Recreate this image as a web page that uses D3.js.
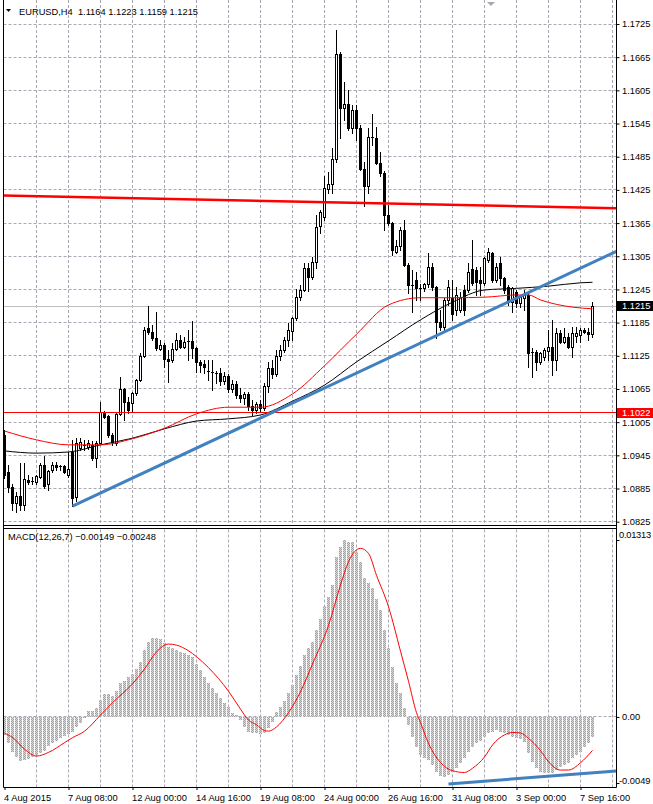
<!DOCTYPE html>
<html>
<head>
<meta charset="utf-8">
<script src="https://cdn.jsdelivr.net/npm/d3@7"></script>
<style>
  html, body { margin: 0; padding: 0; background: #fff; }
  svg { display: block; }
</style>
</head>
<body>
<svg id="chart" width="653" height="804"></svg>
<script>
// ---- data (bar 0 = 4 Aug 16:00, one bar per 4 hours) ----
// [open, high, low, close]
const ohlc = [
  [1.0982,1.0991,1.0904,1.0909],[1.0915,1.0928,1.0879,1.0888],[1.0888,1.0893,1.0846,1.0859],[1.0859,1.0879,1.0843,1.0872],
  [1.0872,1.0931,1.0846,1.0855],[1.0855,1.0931,1.0846,1.0902],[1.0900,1.0910,1.0893,1.0897],[1.0898,1.0906,1.0893,1.0899],
  [1.0897,1.0910,1.0893,1.0908],[1.0906,1.0931,1.0904,1.0928],[1.0928,1.0944,1.0886,1.0890],[1.0893,1.0919,1.0882,1.0917],
  [1.0918,1.0933,1.0915,1.0928],[1.0928,1.0933,1.0918,1.0924],[1.0924,1.0928,1.0918,1.0925],[1.0926,1.0928,1.0913,1.0915],
  [1.0910,1.0951,1.0906,1.0920],[1.0951,1.0973,1.0853,1.0868],[1.0870,1.0976,1.0862,1.0967],[1.0958,1.0976,1.0955,1.0969],
  [1.0961,1.0973,1.0955,1.0964],[1.0960,1.0973,1.0956,1.0967],[1.0964,1.0971,1.0937,1.0940],[1.0940,1.0971,1.0924,1.0968],
  [1.0968,1.1042,1.0967,1.1023],[1.1022,1.1025,1.1013,1.1014],[1.1016,1.1018,1.0978,1.0982],[1.0982,1.0985,1.0964,1.0969],
  [1.0967,1.1022,1.0964,1.1020],[1.1020,1.1087,1.1018,1.1065],[1.1065,1.1067,1.1009,1.1042],[1.1042,1.1051,1.1022,1.1027],
  [1.1040,1.1060,1.1023,1.1058],[1.1058,1.1083,1.1054,1.1082],[1.1081,1.1130,1.1080,1.1125],[1.1125,1.1177,1.1123,1.1172],
  [1.1175,1.1215,1.1164,1.1168],[1.1168,1.1181,1.1154,1.1157],[1.1157,1.1204,1.1136,1.1139],[1.1138,1.1154,1.1136,1.1145],
  [1.1145,1.1148,1.1105,1.1119],[1.1120,1.1136,1.1078,1.1116],[1.1117,1.1148,1.1114,1.1138],[1.1138,1.1166,1.1136,1.1154],
  [1.1154,1.1163,1.1139,1.1141],[1.1141,1.1159,1.1139,1.1150],[1.1150,1.1172,1.1117,1.1151],[1.1151,1.1188,1.1121,1.1139],
  [1.1139,1.1141,1.1096,1.1114],[1.1114,1.1117,1.1096,1.1108],[1.1110,1.1117,1.1094,1.1105],[1.1097,1.1117,1.1081,1.1096],
  [1.1096,1.1117,1.1063,1.1094],[1.1094,1.1097,1.1076,1.1093],[1.1093,1.1103,1.1072,1.1079],[1.1079,1.1096,1.1074,1.1088],
  [1.1088,1.1092,1.1060,1.1065],[1.1065,1.1081,1.1060,1.1074],[1.1074,1.1079,1.1049,1.1054],[1.1054,1.1067,1.1042,1.1049],
  [1.1049,1.1060,1.1038,1.1056],[1.1056,1.1060,1.1027,1.1034],[1.1034,1.1045,1.1018,1.1027],[1.1027,1.1042,1.1022,1.1038],
  [1.1038,1.1045,1.1023,1.1031],[1.1031,1.1076,1.1027,1.1070],[1.1070,1.1114,1.1060,1.1103],[1.1103,1.1117,1.1085,1.1092],
  [1.1092,1.1136,1.1088,1.1125],[1.1125,1.1145,1.1118,1.1136],[1.1136,1.1159,1.1132,1.1154],[1.1154,1.1184,1.1143,1.1172],
  [1.1169,1.1195,1.1154,1.1193],[1.1193,1.1246,1.1190,1.1231],[1.1231,1.1253,1.1226,1.1244],[1.1244,1.1293,1.1242,1.1284],
  [1.1284,1.1293,1.1242,1.1268],[1.1268,1.1304,1.1264,1.1295],[1.1295,1.1380,1.1284,1.1358],[1.1360,1.1389,1.1347,1.1385],
  [1.1376,1.1450,1.1371,1.1429],[1.1427,1.1457,1.1419,1.1436],[1.1436,1.1501,1.1419,1.1481],[1.1481,1.1714,1.1475,1.1671],
  [1.1671,1.1675,1.1519,1.1573],[1.1573,1.1620,1.1551,1.1580],[1.1580,1.1606,1.1533,1.1537],[1.1537,1.1579,1.1528,1.1569],
  [1.1569,1.1579,1.1515,1.1537],[1.1537,1.1543,1.1461,1.1463],[1.1463,1.1475,1.1396,1.1432],[1.1432,1.1537,1.1419,1.1521],
  [1.1521,1.1562,1.1506,1.1519],[1.1519,1.1539,1.1472,1.1474],[1.1474,1.1494,1.1450,1.1456],[1.1456,1.1459,1.1352,1.1380],
  [1.1380,1.1398,1.1362,1.1365],[1.1365,1.1367,1.1307,1.1316],[1.1313,1.1334,1.1311,1.1324],[1.1324,1.1358,1.1316,1.1352],
  [1.1352,1.1371,1.1287,1.1289],[1.1289,1.1293,1.1239,1.1253],[1.1253,1.1280,1.1204,1.1251],[1.1262,1.1277,1.1226,1.1248],
  [1.1248,1.1255,1.1226,1.1247],[1.1247,1.1257,1.1242,1.1255],[1.1255,1.1311,1.1249,1.1286],[1.1286,1.1293,1.1244,1.1249],
  [1.1249,1.1251,1.1157,1.1186],[1.1186,1.1208,1.1172,1.1177],[1.1177,1.1230,1.1172,1.1226],[1.1226,1.1262,1.1217,1.1249],
  [1.1229,1.1262,1.1190,1.1201],[1.1208,1.1249,1.1199,1.1235],[1.1208,1.1240,1.1204,1.1231],[1.1244,1.1253,1.1199,1.1208],
  [1.1244,1.1293,1.1240,1.1277],[1.1282,1.1334,1.1253,1.1257],[1.1280,1.1286,1.1235,1.1259],[1.1262,1.1286,1.1235,1.1257],
  [1.1257,1.1304,1.1253,1.1302],[1.1298,1.1320,1.1295,1.1313],[1.1311,1.1313,1.1259,1.1262],[1.1262,1.1293,1.1259,1.1286],
  [1.1293,1.1304,1.1253,1.1266],[1.1266,1.1268,1.1239,1.1244],[1.1249,1.1253,1.1217,1.1222],[1.1222,1.1250,1.1204,1.1248],
  [1.1240,1.1244,1.1213,1.1220],[1.1220,1.1235,1.1213,1.1231],[1.1229,1.1244,1.1208,1.1235],[1.1235,1.1240,1.1105,1.1130],
  [1.1130,1.1139,1.1087,1.1132],[1.1132,1.1136,1.1099,1.1114],[1.1114,1.1132,1.1110,1.1130],[1.1123,1.1139,1.1117,1.1136],
  [1.1133,1.1172,1.1117,1.1141],[1.1141,1.1190,1.1090,1.1117],[1.1117,1.1175,1.1099,1.1166],[1.1166,1.1172,1.1148,1.1150],
  [1.1150,1.1175,1.1148,1.1159],[1.1159,1.1166,1.1139,1.1141],[1.1141,1.1177,1.1123,1.1166],[1.1160,1.1177,1.1150,1.1166],
  [1.1162,1.1175,1.1150,1.1172],[1.1172,1.1175,1.1166,1.1168],[1.1168,1.1175,1.1154,1.1164],[1.1164,1.1223,1.1159,1.1215]
];

// moving averages, sampled at bar indices
const maRedBars   = [0, 8, 16, 24, 32, 40, 48, 56, 64, 72, 80, 88, 96, 104, 112, 120, 128, 131, 134, 138, 142, 147];
const maRedVals   = [1.0989, 1.0973, 1.0964, 1.0964, 1.0975, 1.0994, 1.1020, 1.1032, 1.1032, 1.1056, 1.1107,
                     1.1164, 1.1217, 1.1230, 1.1230, 1.1231, 1.1235, 1.1235, 1.1226, 1.1218, 1.1213, 1.1210];
const maBlackBars = [0, 8, 16, 24, 32, 40, 48, 56, 64, 72, 80, 88, 96, 104, 112, 120, 128, 136, 144, 147];
const maBlackVals = [1.0953, 1.0949, 1.0951, 1.0964, 1.0976, 1.0993, 1.1007, 1.1011, 1.1018, 1.1043, 1.1072,
                     1.1114, 1.1152, 1.1190, 1.1222, 1.1244, 1.1247, 1.1251, 1.1257, 1.1258];

// MACD(12,26,7) main values (histogram), one per bar
const macdHist = [
  -0.00134,-0.00196,-0.00258,-0.00295,-0.00325,-0.00320,-0.00310,-0.00300,-0.00282,-0.00271,
  -0.00251,-0.00213,-0.00196,-0.00176,-0.00159,-0.00141,-0.00127,-0.00109,-0.00078,-0.00042,
  -0.00005, 0.00044, 0.00044, 0.00064, 0.00125, 0.00170, 0.00170, 0.00155, 0.00194, 0.00254,
   0.00266, 0.00294, 0.00319, 0.00354, 0.00410, 0.00497, 0.00558, 0.00583, 0.00583, 0.00575,
   0.00546, 0.00516, 0.00509, 0.00497, 0.00479, 0.00471, 0.00460, 0.00442, 0.00393, 0.00348,
   0.00294, 0.00250, 0.00212, 0.00175, 0.00138, 0.00101, 0.00071, 0.00031, 0.00014,-0.00023,
  -0.00072,-0.00109,-0.00117,-0.00122,-0.00130,-0.00122,-0.00085,-0.00036, 0.00038, 0.00071,
   0.00119, 0.00175, 0.00237, 0.00311, 0.00378, 0.00460, 0.00509, 0.00558, 0.00644, 0.00724,
   0.00823, 0.00888, 0.00979, 0.01184, 0.01262, 0.01313, 0.01300, 0.01295, 0.01225, 0.01152,
   0.01029, 0.00996, 0.00954, 0.00873, 0.00793, 0.00644, 0.00514, 0.00373, 0.00250, 0.00179,
   0.00069,-0.00061,-0.00147,-0.00221,-0.00282,-0.00307,-0.00320,-0.00357,-0.00407,-0.00438,
  -0.00444,-0.00431,-0.00407,-0.00381,-0.00344,-0.00307,-0.00258,-0.00221,-0.00196,-0.00176,
  -0.00147,-0.00122,-0.00109,-0.00098,-0.00109,-0.00122,-0.00134,-0.00147,-0.00159,-0.00167,
  -0.00184,-0.00271,-0.00332,-0.00381,-0.00407,-0.00414,-0.00418,-0.00414,-0.00394,-0.00369,
  -0.00357,-0.00340,-0.00307,-0.00282,-0.00258,-0.00221,-0.00191,-0.00149
];

// MACD signal line, sampled at bar indices
const signalBars = [0, 2, 5, 8, 11, 15, 17, 20, 24, 27, 32, 35, 38, 41, 43, 46, 48, 51, 56, 59, 61, 63, 65, 66, 68,
                    71, 74, 77, 81, 84, 86, 89, 91, 93, 96, 99, 101, 103, 104, 106, 109, 112, 115, 117, 120, 122,
                    125, 127, 129, 131, 134, 136, 139, 141, 144, 147];
const signalVals = [-0.00122,-0.00152,-0.00239,-0.00290,-0.00263,-0.00191,-0.00154,-0.00106, 0.00014, 0.00106,
                     0.00246, 0.00356, 0.00483, 0.00541, 0.00533, 0.00491, 0.00447, 0.00366, 0.00191, 0.00058,
                    -0.00023,-0.00058,-0.00101,-0.00105,-0.00074, 0.00032, 0.00187, 0.00393, 0.00679, 0.00979,
                     0.01152, 0.01251, 0.01214, 0.01051, 0.00818, 0.00488, 0.00265, 0.00032,-0.00042,-0.00196,
                    -0.00338,-0.00399,-0.00412,-0.00381,-0.00297,-0.00208,-0.00133,-0.00115,-0.00119,-0.00159,
                    -0.00250,-0.00332,-0.00394,-0.00394,-0.00340,-0.00248];

// drawn objects: [bar, value] end points
const blueTrend     = [[17, 1.0853], [153, 1.1314]];
const redTrend      = [[-1, 1.1415], [153, 1.1392]];
const macdTrend     = [[111, -0.00497], [153, -0.00401]];
const levelPrice    = 1.1022;
const bidPrice      = 1.1215;

// axis ticks
const priceTicks     = [1.0825, 1.0885, 1.0945, 1.1005, 1.1065, 1.1125, 1.1185, 1.1245,
                        1.1305, 1.1365, 1.1425, 1.1485, 1.1545, 1.1605, 1.1665, 1.1725];
const macdTicks      = [0.01313, 0, -0.0049];
const macdTickLabels = ['0.01313', '0.00', '-0.0049'];
const dateTickBars   = [0, 16, 32, 48, 64, 80, 96, 112, 128, 144];
const dateTickLabels = ['4 Aug 2015', '7 Aug 08:00', '12 Aug 00:00', '14 Aug 16:00', '19 Aug 08:00',
                        '24 Aug 00:00', '26 Aug 16:00', '31 Aug 08:00', '3 Sep 00:00', '7 Sep 16:00'];

// ---- layout ----
const FONT = '"Liberation Sans", Arial, sans-serif';
const FONT_SIZE = 9.3;
const LEFT = 3.5, RIGHT = 616.5;
const MAIN_BOTTOM = 525.5, SUB_TOP = 528.5, SUB_BOTTOM = 787.5;
const GRID = '#aba7b5';

const svg = d3.select('#chart').attr('font-family', FONT).attr('font-size', FONT_SIZE);

const x  = d3.scaleLinear().domain([0, 147]).range([4.5, 592.5]);
const y  = d3.scaleLinear().domain([1.0825, 1.1725]).range([521.7, 24]);
const ym = d3.scaleLinear().domain([-0.0049, 0.01313]).range([783, 540]);
const snap = v => Math.round(v - 0.5) + 0.5;

const defs = svg.append('defs');
const pat = defs.append('pattern').attr('id', 'stipple')
  .attr('width', 2).attr('height', 2).attr('patternUnits', 'userSpaceOnUse');
pat.append('rect').attr('width', 2).attr('height', 2).attr('fill', '#d8d8d8');
pat.append('rect').attr('width', 1).attr('height', 1).attr('fill', '#a2a2a2');
pat.append('rect').attr('x', 1).attr('y', 1).attr('width', 1).attr('height', 1).attr('fill', '#a2a2a2');
defs.append('clipPath').attr('id', 'clipMain').append('rect')
  .attr('x', LEFT).attr('y', 0).attr('width', RIGHT - LEFT).attr('height', MAIN_BOTTOM);
defs.append('clipPath').attr('id', 'clipSub').append('rect')
  .attr('x', LEFT).attr('y', SUB_TOP).attr('width', RIGHT - LEFT).attr('height', SUB_BOTTOM - SUB_TOP);

// ---- grid ----
const gridBars = d3.range(8, 153, 8);
const grid = svg.append('g').attr('stroke', GRID).attr('stroke-dasharray', '3,2').attr('fill', 'none');
gridBars.forEach(b => {
  grid.append('line').attr('x1', x(b)).attr('x2', x(b)).attr('y1', 0).attr('y2', MAIN_BOTTOM - 1);
  grid.append('line').attr('x1', x(b)).attr('x2', x(b)).attr('y1', SUB_TOP + 1).attr('y2', SUB_BOTTOM);
});
priceTicks.forEach(p => {
  grid.append('line').attr('x1', LEFT).attr('x2', RIGHT).attr('y1', snap(y(p))).attr('y2', snap(y(p)));
});
grid.append('line').attr('x1', LEFT).attr('x2', RIGHT).attr('y1', snap(ym(0))).attr('y2', snap(ym(0)));

// ---- main window ----
const main = svg.append('g').attr('clip-path', 'url(#clipMain)');

// bid line
main.append('line').attr('x1', LEFT).attr('x2', RIGHT)
  .attr('y1', snap(y(bidPrice))).attr('y2', snap(y(bidPrice)))
  .attr('stroke', '#c0c0c0');

// candles
const candles = main.append('g');
ohlc.forEach((d, i) => {
  const [o, h, l, c] = d;
  const cx = x(i);
  candles.append('line').attr('x1', cx).attr('x2', cx)
    .attr('y1', Math.round(y(h))).attr('y2', Math.round(y(l)) + 1)
    .attr('stroke', '#000');
  const yo = Math.round(y(o)), yc = Math.round(y(c));
  if (Math.abs(yo - yc) < 2) {
    candles.append('rect').attr('x', cx - 1.5).attr('y', Math.min(yo, yc)).attr('width', 3).attr('height', 1)
      .attr('fill', '#000');
  } else if (c > o) {
    candles.append('rect').attr('x', cx - 1).attr('y', yc + 0.5).attr('width', 2).attr('height', yo - yc)
      .attr('fill', '#fff').attr('stroke', '#000');
  } else {
    candles.append('rect').attr('x', cx - 1.5).attr('y', yo).attr('width', 3).attr('height', yc - yo + 1)
      .attr('fill', '#000');
  }
});

// moving averages
const priceLine = d3.line().x(d => x(d[0])).y(d => y(d[1])).curve(d3.curveMonotoneX);
main.append('path').datum(maBlackBars.map((b, i) => [b, maBlackVals[i]]))
  .attr('d', priceLine).attr('fill', 'none').attr('stroke', '#000').attr('stroke-width', 1);
main.append('path').datum(maRedBars.map((b, i) => [b, maRedVals[i]]))
  .attr('d', priceLine).attr('fill', 'none').attr('stroke', '#ff0000').attr('stroke-width', 1);

// horizontal level
main.append('line').attr('x1', LEFT).attr('x2', RIGHT)
  .attr('y1', snap(y(levelPrice))).attr('y2', snap(y(levelPrice)))
  .attr('stroke', '#ff0000');

// trend lines
const straight = d3.line().x(d => x(d[0])).y(d => y(d[1]));
main.append('path').datum(redTrend).attr('d', straight)
  .attr('fill', 'none').attr('stroke', '#ff0000').attr('stroke-width', 2.5);
main.append('path').datum(blueTrend).attr('d', straight)
  .attr('fill', 'none').attr('stroke', '#4181c0').attr('stroke-width', 3);

// ---- MACD window ----
const sub = svg.append('g').attr('clip-path', 'url(#clipSub)');
const zeroY = Math.round(ym(0));
sub.append('g').selectAll('rect').data(macdHist).join('rect')
  .attr('x', (d, i) => x(i) - 1.5)
  .attr('width', 3)
  .attr('y', d => d >= 0 ? Math.round(ym(d)) : zeroY)
  .attr('height', d => Math.max(1, Math.abs(Math.round(ym(d)) - zeroY)))
  .attr('fill', 'url(#stipple)');

const macdLine = d3.line().x(d => x(d[0])).y(d => ym(d[1])).curve(d3.curveMonotoneX);
sub.append('path').datum(signalBars.map((b, i) => [b, signalVals[i]]))
  .attr('d', macdLine).attr('fill', 'none').attr('stroke', '#ff0000').attr('stroke-width', 1);

const macdStraight = d3.line().x(d => x(d[0])).y(d => ym(d[1]));
sub.append('path').datum(macdTrend).attr('d', macdStraight)
  .attr('fill', 'none').attr('stroke', '#4181c0').attr('stroke-width', 3);

// ---- frames ----
const frame = svg.append('g').attr('stroke', '#000').attr('fill', 'none');
frame.append('line').attr('x1', LEFT).attr('x2', LEFT).attr('y1', 0).attr('y2', SUB_BOTTOM);
frame.append('line').attr('x1', RIGHT).attr('x2', RIGHT).attr('y1', 0).attr('y2', SUB_BOTTOM);
frame.append('line').attr('x1', LEFT).attr('x2', RIGHT).attr('y1', MAIN_BOTTOM).attr('y2', MAIN_BOTTOM);
frame.append('line').attr('x1', LEFT).attr('x2', RIGHT).attr('y1', SUB_TOP).attr('y2', SUB_TOP);
frame.append('line').attr('x1', LEFT).attr('x2', RIGHT).attr('y1', SUB_BOTTOM).attr('y2', SUB_BOTTOM);

// ---- axes ----
const yAxis = d3.axisRight(y).tickValues(priceTicks).tickSize(3).tickPadding(2.5).tickFormat(d3.format('.4f'));
svg.append('g').attr('transform', `translate(${RIGHT},0)`).call(yAxis)
  .attr('font-family', FONT).attr('font-size', FONT_SIZE)
  .call(g => g.select('.domain').remove());

const macdAxis = d3.axisRight(ym).tickValues(macdTicks).tickSize(3).tickPadding(2.5)
  .tickFormat((d, i) => macdTickLabels[i]);
svg.append('g').attr('transform', `translate(${RIGHT},0)`).call(macdAxis)
  .attr('font-family', FONT).attr('font-size', FONT_SIZE)
  .call(g => g.select('.domain').remove())
  .call(g => g.selectAll('text')
    .attr('y', d => d === macdTicks[0] ? -5 : (d === macdTicks[2] ? -2 : 0))
    .attr('x', d => d === 0 ? 5.5 : 2.5)
    .attr('letter-spacing', d => d === macdTicks[0] ? -0.25 : null));

const xAxis = d3.axisBottom(x).tickValues(dateTickBars).tickSize(3).tickPadding(4)
  .tickFormat((d, i) => dateTickLabels[i]);
svg.append('g').attr('transform', `translate(0,${SUB_BOTTOM - 0.5})`).call(xAxis)
  .attr('font-family', FONT).attr('font-size', FONT_SIZE)
  .call(g => g.select('.domain').remove())
  .call(g => g.selectAll('text').attr('text-anchor', 'start').attr('x', -1));

// price boxes on the axis
[[bidPrice, '#000'], [levelPrice, '#ff0000']].forEach(([p, col]) => {
  const cy = y(p);
  svg.append('rect').attr('x', RIGHT + 0.5).attr('y', Math.round(cy) - 5).attr('width', 36).attr('height', 10)
    .attr('fill', col);
  svg.append('text').attr('x', 622).attr('y', cy).attr('dy', '0.34em')
    .attr('fill', '#fff').text(d3.format('.4f')(p));
});

// ---- labels ----
const last = ohlc[ohlc.length - 1];
svg.append('path').attr('d', 'M6,9 L11,9 L8.5,12 Z').attr('fill', '#000');
svg.append('text').attr('x', 19).attr('y', 14.5).attr('xml:space', 'preserve').style('white-space', 'pre')
  .text('EURUSD,H4  ' + last.map(d3.format('.4f')).join(' '));
svg.append('text').attr('x', 8).attr('y', 540)
  .text(`MACD(12,26,7) ${d3.format('.5f')(macdHist[macdHist.length - 1])} ${d3.format('.5f')(signalVals[signalVals.length - 1])}`);

// chart shift marker
svg.append('path').attr('d', 'M487,2 L495,2 L491,6 Z').attr('fill', '#a8a8a8');
</script>
</body>
</html>
